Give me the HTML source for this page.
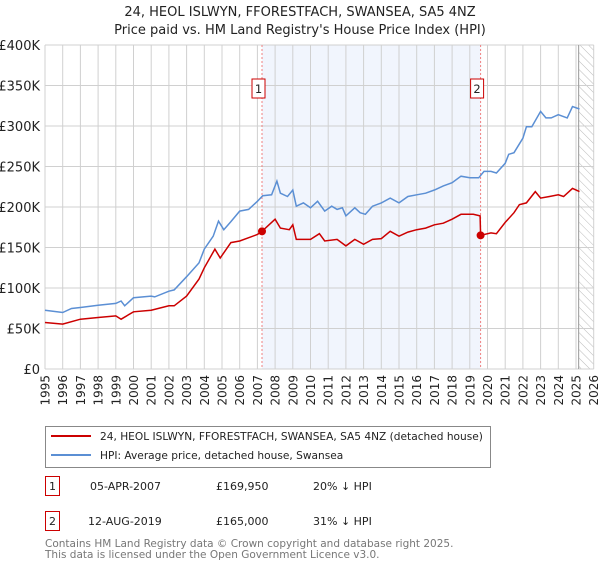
<!DOCTYPE html>
<html><head><meta charset="utf-8"><style>
body{margin:0;background:#fff;font-family:"Liberation Sans","DejaVu Sans",sans-serif;}
svg text{font-family:"DejaVu Sans","Liberation Sans",sans-serif;}
</style></head><body>
<svg id="chart" width="600" height="560" xmlns="http://www.w3.org/2000/svg">
<defs><pattern id="hatch" width="6" height="6" patternUnits="userSpaceOnUse" patternTransform="rotate(-45)"><line x1="0" y1="0" x2="0" y2="6" stroke="#bbb" stroke-width="1"/></pattern></defs>
<text x="300" y="16" text-anchor="middle" font-size="13" fill="#222">24, HEOL ISLWYN, FFORESTFACH, SWANSEA, SA5 4NZ</text>
<text x="300" y="34" text-anchor="middle" font-size="13" fill="#222">Price paid vs. HM Land Registry's House Price Index (HPI)</text>
<g id="grid"></g>
<g id="series"></g>
<g>
<rect x="45.5" y="426.5" width="445" height="41" fill="#fff" stroke="#888"/>
<line x1="51" y1="436" x2="91" y2="436" stroke="#cc0000" stroke-width="2"/>
<text x="100" y="440" font-size="10.6" fill="#222">24, HEOL ISLWYN, FFORESTFACH, SWANSEA, SA5 4NZ (detached house)</text>
<line x1="51" y1="455" x2="91" y2="455" stroke="#5b8fd4" stroke-width="2"/>
<text x="100" y="459" font-size="10.6" fill="#222">HPI: Average price, detached house, Swansea</text>
</g>
<g font-size="11" fill="#222">
<rect x="45.5" y="476.5" width="14" height="19" fill="#fff" stroke="#cc0000"/>
<text x="52.5" y="490" text-anchor="middle">1</text>
<text x="90" y="490">05-APR-2007</text><text x="216" y="490">£169,950</text><text x="313" y="490">20% ↓ HPI</text>
<rect x="45.5" y="511.5" width="14" height="19" fill="#fff" stroke="#cc0000"/>
<text x="52.5" y="525" text-anchor="middle">2</text>
<text x="88" y="525">12-AUG-2019</text><text x="216" y="525">£165,000</text><text x="313" y="525">31% ↓ HPI</text>
</g>
<text x="45" y="547" font-size="10.5" fill="#777">Contains HM Land Registry data © Crown copyright and database right 2025.</text>
<text x="45" y="558" font-size="10.5" fill="#777">This data is licensed under the Open Government Licence v3.0.</text>
</svg>
<script>
const yTicks=[0,50,100,150,200,250,300,350,400];
const yTickLabels=["£0","£50K","£100K","£150K","£200K","£250K","£300K","£350K","£400K"];
const years=[1995,1996,1997,1998,1999,2000,2001,2002,2003,2004,2005,2006,2007,2008,2009,2010,2011,2012,2013,2014,2015,2016,2017,2018,2019,2020,2021,2022,2023,2024,2025,2026];
const hpiT=[1995,1996,1996.5,1997,1998,1999,1999.3,1999.5,2000,2001,2001.2,2002,2002.3,2003,2003.7,2004,2004.5,2004.8,2005.1,2005.5,2006,2006.5,2007,2007.3,2007.8,2008.1,2008.3,2008.7,2009,2009.2,2009.6,2010,2010.4,2010.8,2011.2,2011.5,2011.8,2012,2012.5,2012.8,2013.1,2013.5,2014,2014.5,2015,2015.5,2016,2016.5,2017,2017.5,2018,2018.5,2019,2019.5,2019.8,2020.2,2020.5,2021,2021.2,2021.5,2022,2022.2,2022.5,2023,2023.3,2023.6,2024,2024.5,2024.8,2025.2];
const hpiV=[72.6,69.7,74.7,75.9,78.8,81,84,78,88,90,89,96,97.6,114,131,148,164,182.6,172,182,195,197,207,214,215,232,217,213,221,201,205,199,207,195,201,197,199,189,199,193,191,201,205,211,205,213,215,217,221,226,230,238,236,236,244,244,242,254,265,267,285,299,299,318,310,310,314,310,324,321];
const propT=[1995,1996,1997,1998,1999,1999.3,2000,2001,2002,2002.3,2003,2003.7,2004,2004.6,2004.9,2005.5,2006,2007,2007.26,2008,2008.3,2008.8,2009,2009.2,2010,2010.5,2010.8,2011.5,2012,2012.5,2013,2013.5,2014,2014.5,2015,2015.5,2016,2016.5,2017,2017.5,2018,2018.5,2019.2,2019.58,2019.61,2020.2,2020.5,2021,2021.5,2021.8,2022.2,2022.7,2023,2023.5,2024,2024.3,2024.8,2025.2];
const propV=[57.4,55.4,61.5,63.6,65.6,61.5,70.6,72.6,78,78,90,111,125,148,137,156,158,166,169.95,185,174,172,178,160,160,167,158,160,152,160,154,160,161,170,164,169,172,174,178,180,185,191,191,189,165,168,167,181,193,203,205,219,211,213,215,213,223,219];
const saleT=[2007.26,2019.61];
const saleV=[169.95,165];
const saleLabels=["1","2"];
const X0=45,X1=593.7,Y0=369,Y1=45;
const xs=t=>X0+(t-1995)*(X1-X0)/31;
const ys=v=>Y0-v*(Y0-Y1)/400;
const NS="http://www.w3.org/2000/svg";
function mk(tag,attrs,parent){const e=document.createElementNS(NS,tag);for(const k in attrs)e.setAttribute(k,attrs[k]);parent.appendChild(e);return e;}
const g=document.getElementById('grid'),s=document.getElementById('series');
let r=mk('rect',{x:xs(saleT[0]),y:Y1,width:xs(saleT[1])-xs(saleT[0]),height:Y0-Y1,fill:'#eef3fc',opacity:0.8},g);


let h=mk('rect',{x:xs(2025.15),y:Y1,width:X1-xs(2025.15),height:Y0-Y1,fill:'url(#hatch)'},g);


years.forEach((yr)=>{
 const x=xs(yr);
 let l=mk('line',{x1:x,x2:x,y1:Y1,y2:Y0,stroke:'#d0d0d0','stroke-width':1},g);
 
 
 let t=mk('text',{x:0,y:0,'font-size':12,fill:'#222','text-anchor':'end',transform:`translate(${x+4.5},${Y0+6}) rotate(-90)`},g);
 t.textContent=yr;
 
 
});
yTicks.forEach((v,i)=>{
 const y=ys(v);
 let l=mk('line',{x1:X0,x2:X1,y1:y,y2:y,stroke:'#d0d0d0','stroke-width':1},g);
 
 
 let t=mk('text',{x:X0-5,y:y+5,'font-size':13,fill:'#222','text-anchor':'end'},g);
 t.textContent=yTickLabels[i];
 
 
});
let vl=mk('line',{x1:xs(2025.15),x2:xs(2025.15),y1:Y1,y2:Y0,stroke:'#999','stroke-width':1},g);


saleT.forEach((t,i)=>{
 let l=mk('line',{x1:xs(t),x2:xs(t),y1:Y1,y2:Y0,stroke:'#f08080','stroke-width':1,'stroke-dasharray':'2,2'},g);
 
 
 let b=mk('rect',{x:xs(t)-10,y:79,width:13,height:19,fill:'#fff',stroke:'#cc0000'},g);
 
 
 let tx=mk('text',{x:xs(t)-3.5,y:93,'font-size':11.5,fill:'#222','text-anchor':'middle'},g);
 tx.textContent=saleLabels[i];
 
 
});
function path(T,V){return T.map((t,i)=>(i?'L':'M')+xs(t).toFixed(1)+','+ys(V[i]).toFixed(1)).join('');}
let hp=mk('path',{d:path(hpiT,hpiV),fill:'none',stroke:'#5b8fd4','stroke-width':1.5},s);


let pp=mk('path',{d:path(propT,propV),fill:'none',stroke:'#cc0000','stroke-width':1.5},s);


saleT.forEach((t,i)=>{
 let c=mk('circle',{cx:xs(t),cy:ys(saleV[i]),r:4,fill:'#cc0000'},s);
 
 
});
</script>
</body></html>
